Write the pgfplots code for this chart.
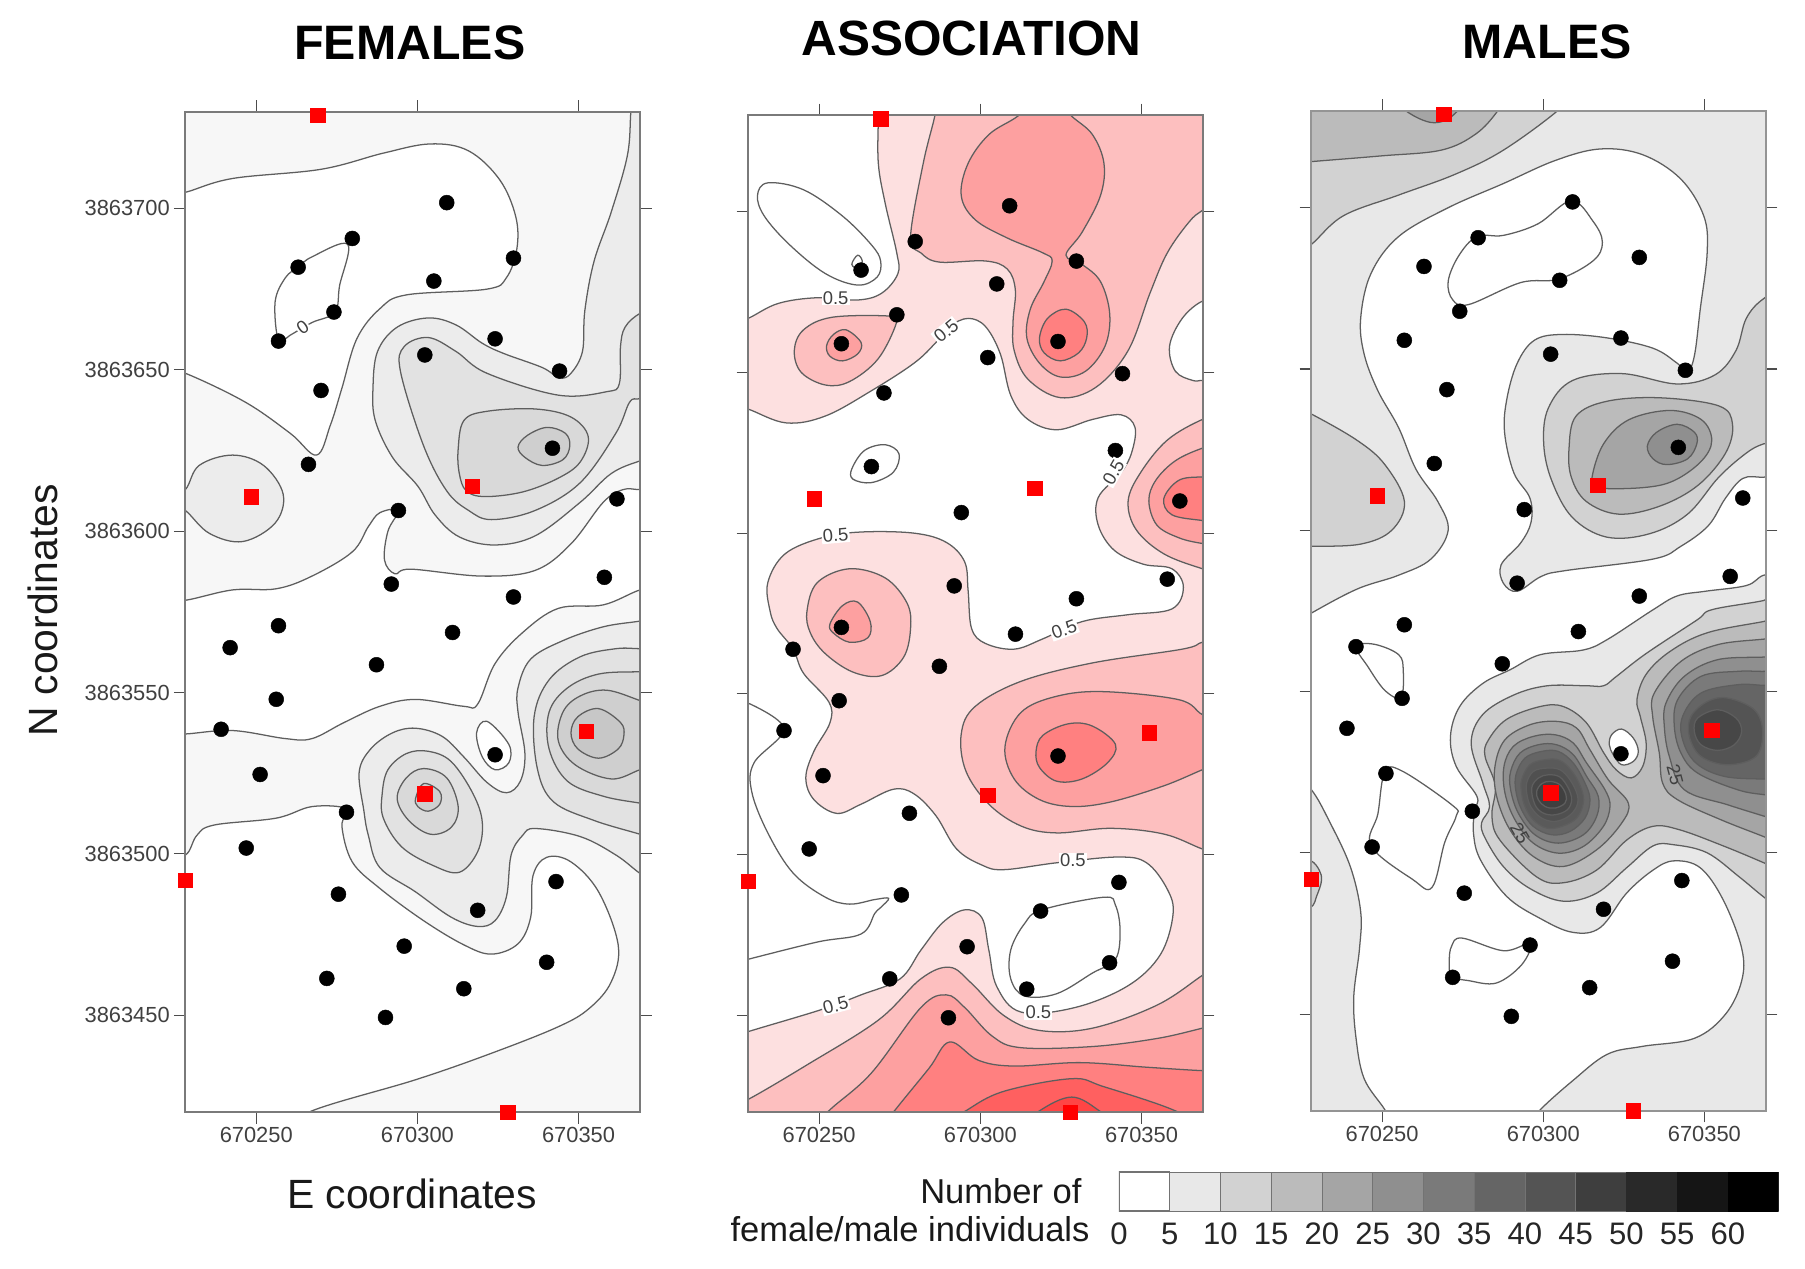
\documentclass[border=0pt]{standalone}
\usepackage{fontspec}
\setmainfont{Liberation Sans}
\usepackage{pgfplots}
\usepackage{pgfplotstable}
\pgfplotsset{compat=1.18}

\definecolor{lc}{HTML}{5E5E5E}
\definecolor{fa}{HTML}{F7F7F7}
\definecolor{fb}{HTML}{ECECEC}
\definecolor{fc}{HTML}{E2E2E2}
\definecolor{fd}{HTML}{D9D9D9}
\definecolor{fe}{HTML}{CFCFCF}
\definecolor{ff}{HTML}{C7C7C7}
\definecolor{pa}{HTML}{FDE0E0}
\definecolor{pb}{HTML}{FDBFBF}
\definecolor{pc}{HTML}{FDA0A0}
\definecolor{pd}{HTML}{FF8080}
\definecolor{pe}{HTML}{FF6060}
\definecolor{pf}{HTML}{FF4545}
\definecolor{g1}{HTML}{E8E8E8}
\definecolor{g2}{HTML}{D2D2D2}
\definecolor{g3}{HTML}{BBBBBB}
\definecolor{g4}{HTML}{A5A5A5}
\definecolor{g5}{HTML}{8F8F8F}
\definecolor{g6}{HTML}{7A7A7A}
\definecolor{g7}{HTML}{656565}
\definecolor{g8}{HTML}{545454}
\definecolor{g9}{HTML}{3E3E3E}
\definecolor{g10}{HTML}{292929}
\definecolor{g11}{HTML}{151515}
\definecolor{h8}{HTML}{5A5A5A}
\definecolor{h9}{HTML}{505050}
\definecolor{h10}{HTML}{474747}
\definecolor{h11}{HTML}{404040}

% sampling stations, E-670000 and N-3863000 in metres
\pgfplotstableread{
x y
309.1 701.8
279.8 690.7
263.0 681.8
329.8 684.6
305.1 677.5
274.1 667.9
256.9 658.9
324.1 659.6
302.3 654.6
344.1 649.6
270.1 643.6
341.9 625.7
266.2 620.7
294.1 606.4
361.9 610.0
358.0 585.7
291.9 583.6
329.8 579.6
256.9 570.7
310.9 568.6
241.9 563.9
287.3 558.6
256.2 547.9
239.1 538.6
324.1 530.7
251.2 524.6
278.0 512.9
246.9 501.8
275.5 487.5
343.0 491.4
318.7 482.5
295.9 471.4
340.1 466.4
271.9 461.4
314.4 458.2
290.1 449.3
}\stations
\pgfplotstableread{
x y
269.1 728.9
369.1 657.9
248.4 610.7
316.9 613.9
228.0 491.8
352.3 537.9
302.3 518.6
328.0 420.0
}\redsites

\pgfplotsset{
  panel/.style={scale only axis,width=395pt,anchor=south west,
    xmin=228,xmax=369.07,ymin=420,ymax=730,
    xtick={250,300,350},xticklabels={670250,670300,670350},
    ytick={450,500,550,600,650,700},
    tick align=outside,major tick length=10pt,
    tick style={color=black!70,line width=0.9pt},
    axis line style={color=black!50,line width=1pt},
    tick label style={font=\fontsize{19}{19}\selectfont,text=black!75},
    clip mode=individual},
  reg/.style={draw=lc,line width=1.1pt,smooth cycle,tension=0.6},
  ra/.style={reg,x filter/.expression={228+(x-161)/2.8},y filter/.expression={730-(y-97)/2.8}},
  rb/.style={reg,x filter/.expression={228+(x-650)/2.8},y filter/.expression={730-(y-100)/2.8}},
  rc/.style={reg,x filter/.expression={228+(x-1139)/2.8},y filter/.expression={730-(y-97)/2.8}},
  rz/.style={reg,x filter/.expression={267.96+0.10342*x},y filter/.expression={572.29-0.10342*y}},
  ry/.style={reg,x filter/.expression={280.37+0.10342*x},y filter/.expression={547.47-0.10342*y}},
  stn/.style={only marks,mark=*,mark size=6.5pt,mark options={fill=black,draw=black}},
  redm/.style={only marks,mark=square*,mark size=6.2pt,mark options={fill=red,draw=red}},
}
\tikzset{lab/.style={font=\fontsize{16}{16}\selectfont,text=black!75,inner sep=1pt},
  frm/.style={draw=black!52,line width=1.9pt}}

\begin{document}
\begin{tikzpicture}[x=1pt,y=1pt]
\path[use as bounding box] (0,0) rectangle (1568,1102);

% FEMALES
\begin{axis}[panel,height=869pt,at={(161pt,136pt)},
  yticklabels={3863450,3863500,3863550,3863600,3863650,3863700},axis background/.style={fill=fa}]
\addplot[ra,fill=white] coordinates {(161,167)(202,155)(279,147)(333,133)(374,125)(407,131)(434,156)(448,188)(449,216)(440,241)(423,251)(353,256)(330,268)(310,294)(297,337)(287,369)(275,395)(252,376)(213,349)(161,324)(140,320)(140,170)};
\addplot[ra,fill=white] coordinates {(161,521)(202,512)(240,511)(271,500)(306,479)(320,457)(330,445)(346,443)(337,461)(334,486)(343,498)(357,494)(419,500)(465,495)(496,472)(524,436)(541,425)(556,425)(575,425)(575,510)(556,512)(524,525)(485,528)(454,549)(430,576)(415,611)(403,613)(361,607)(330,613)(299,627)(271,641)(248,641)(202,634)(161,637)(140,637)(140,521)};
\addplot[ra,fill=white] coordinates {(161,742)(171,725)(186,716)(240,710)(271,700)(301,702)(297,717)(306,748)(330,771)(368,799)(403,820)(427,828)(450,819)(461,796)(463,760)(475,744)(496,748)(520,774)(537,820)(531,852)(512,875)(485,891)(427,914)(361,937)(271,964)(240,985)(140,985)(140,742)};
\addplot[ra] coordinates {(242,296)(239,262)(248,241)(259,232)(271,223)(302,212)(295,248)(291,271)(271,280)(252,291)};
% level 2
\addplot[ra,fill=fb] coordinates {(548,97)(545,135)(531,184)(516,227)(508,270)(506,305)(496,324)(486,328)(471,319)(438,307)(419,298)(396,282)(372,276)(345,284)(328,305)(324,337)(326,365)(341,397)(363,422)(378,447)(399,466)(430,473)(465,465)(504,436)(531,411)(556,400)(575,395)(580,250)(575,80)(550,75)};
\addplot[ra,fill=fb] coordinates {(556,539)(524,544)(489,556)(461,572)(450,597)(450,618)(456,654)(452,678)(440,688)(423,679)(403,657)(384,639)(361,632)(341,636)(322,650)(312,670)(316,703)(320,725)(330,753)(361,774)(392,796)(415,804)(430,799)(440,778)(444,742)(454,725)(465,719)(504,726)(535,742)(556,758)(575,770)(585,650)(575,535)};
\addplot[ra,fill=fb] coordinates {(161,425)(173,404)(202,395)(229,404)(246,429)(239,454)(211,470)(182,463)(161,443)(145,434)};
% level 3
\addplot[ra,fill=fc] coordinates {(556,272)(543,284)(539,301)(538,333)(527,340)(485,343)(423,324)(396,305)(372,293)(351,301)(348,323)(368,387)(388,426)(407,443)(427,451)(465,443)(504,419)(535,376)(547,349)(556,346)(575,340)(580,300)(575,265)};
\addplot[ra,fill=fc] coordinates {(332,689)(337,668)(353,654)(372,652)(392,661)(411,689)(419,714)(415,739)(399,757)(376,751)(349,735)(333,710)};
\addplot[ra,fill=fc] coordinates {(556,724)(516,712)(481,696)(467,668)(464,622)(477,590)(504,570)(535,563)(556,563)(575,563)(585,640)(575,730)};
% level 4
\addplot[ra,fill=fd] coordinates {(398,390)(403,365)(423,357)(465,355)(496,362)(511,379)(504,401)(485,415)(454,427)(421,431)(405,426)(399,411)};
\addplot[ra,fill=fd] coordinates {(345,693)(353,675)(368,667)(388,675)(398,700)(392,718)(374,724)(355,712)};
\addplot[ra,fill=fd] coordinates {(556,697)(524,691)(493,678)(477,650)(477,618)(493,597)(520,585)(556,583)(575,583)(585,640)(575,700)};
% level 5
\addplot[ra,fill=fe] coordinates {(450,388)(458,378)(475,371)(491,376)(495,387)(489,399)(471,404)(456,397)};
\addplot[ra,fill=fe] coordinates {(361,693)(368,680)(382,687)(382,698)(372,704)(363,700)};
\addplot[ra,fill=fe] coordinates {(556,668)(531,676)(500,664)(485,643)(489,618)(504,604)(527,599)(556,608)(575,615)(580,640)(575,662)};
\addplot[ra,fill=ff] coordinates {(520,615)(539,627)(542,638)(537,650)(520,658)(502,650)(496,636)(502,622)};
\addplot[ra,fill=white] coordinates {(423,626)(442,646)(442,662)(430,668)(419,657)(414,636)};
\draw[frm] (rel axis cs:0,0) rectangle (rel axis cs:1,1);
\addplot[stn] table {\stations};
\addplot[redm] table {\redsites};
\node[lab,fill=white,rotate=35] at (axis cs:264.4,663.2) {0};
\end{axis}

% ASSOCIATION
\begin{axis}[panel,height=866pt,at={(650pt,136pt)},yticklabels={},axis background/.style={fill=pa}]
\addplot[rb,fill=white] coordinates {(763,101)(763,142)(769,177)(779,220)(780,238)(766,255)(745,261)(710,259)(676,264)(650,277)(630,285)(630,80)(763,80)};
\addplot[rb,fill=white] coordinates {(650,356)(683,368)(717,362)(757,340)(794,316)(813,298)(825,284)(841,277)(856,284)(869,308)(878,344)(893,365)(918,374)(949,365)(974,361)(986,372)(983,394)(974,411)(954,433)(954,457)(968,479)(993,491)(1018,495)(1028,511)(1018,530)(980,535)(940,541)(906,556)(881,565)(856,560)(844,547)(841,514)(838,489)(822,472)(794,464)(748,463)(714,468)(682,482)(667,507)(669,532)(675,547)(689,565)(698,586)(720,611)(721,629)(707,654)(700,677)(707,696)(727,708)(748,700)(776,687)(794,691)(813,710)(831,739)(853,753)(872,757)(918,751)(971,746)(996,751)(1014,774)(1019,796)(1008,831)(980,858)(934,877)(887,881)(866,859)(859,827)(853,799)(838,792)(819,803)(800,827)(782,852)(748,866)(713,879)(650,898)(630,905)(630,350)};
\addplot[rb,fill=white] coordinates {(1044.5,262)(1027,277)(1016,301)(1021,323)(1036,331)(1044.5,331)(1060,331)(1060,262)};
\addplot[rb,smooth] coordinates {(650,612)(681,634)(655,664)(653,689)(667,725)(689,760)(717,781)(738,787)(760,783)(772,782)(765,790)(760,795)(748,813)(710,820)(650,835)};
\addplot[rb] coordinates {(740,408)(751,392)(769,387)(781,395)(776,411)(757,420)(741,417)};
\addplot[rb] coordinates {(658,170)(667,159)(698,165)(732,188)(757,213)(765,227)(762,241)(745,248)(717,238)(686,213)(664,188)};
\addplot[rb] coordinates {(740,230)(745,222)(749,227)(746,234)};
\addplot[rb] coordinates {(905,792)(959,781)(969,788)(973,810)(969,835)(949,847)(918,865)(890,867)(878,852)(878,827)(890,804)};
% level 2
\addplot[rb,fill=pb] coordinates {(812,101)(802,142)(791,206)(800,220)(816,228)(856,227)(875,234)(882,252)(880,280)(881,305)(893,330)(921,346)(952,337)(980,305)(999,255)(1014,220)(1033,193)(1044.5,183)(1065,170)(1065,80)(815,80)};
\addplot[rb,fill=pb] coordinates {(690,305)(698,287)(723,276)(773,275)(779,280)(763,312)(738,332)(717,335)(696,324)};
\addplot[rb,fill=pb] coordinates {(1044.5,365)(1014,383)(991,411)(980,436)(987,461)(1011,482)(1044.5,495)(1065,500)(1070,430)(1065,360)};
\addplot[rb,fill=pb] coordinates {(701,532)(710,507)(738,495)(769,503)(788,525)(791,547)(785,572)(766,588)(741,585)(717,569)(704,551)};
\addplot[rb,fill=pb] coordinates {(1044.5,559)(1027,565)(949,577)(887,593)(847,615)(835,639)(839,671)(859,700)(887,719)(918,725)(965,721)(1011,726)(1044.5,739)(1065,745)(1075,650)(1065,555)};
\addplot[rb,fill=pb] coordinates {(650,957)(701,927)(763,888)(800,852)(825,842)(844,856)(872,884)(903,897)(949,895)(1005,875)(1044.5,849)(1065,835)(1070,990)(630,990)(630,965)};
% level 3
\addplot[rb,fill=pc] coordinates {(884,101)(859,117)(841,142)(835,170)(847,191)(875,207)(906,220)(914,227)(907,245)(895,269)(892,294)(903,316)(921,328)(943,323)(960,301)(964,273)(956,245)(940,230)(926,222)(940,202)(956,170)(959,142)(949,117)(931,101)(915,85)(900,85)};
\addplot[rb,fill=pc] coordinates {(718,301)(724,291)(735,287)(748,298)(745,308)(732,314)(721,310)};
\addplot[rb,fill=pc] coordinates {(1044.5,390)(1021,401)(1004,418)(998,436)(1005,457)(1024,468)(1044.5,473)(1065,475)(1070,430)(1065,385)};
\addplot[rb,fill=pc] coordinates {(721,543)(732,527)(745,524)(756,541)(754,555)(738,559)(724,551)};
\addplot[rb,fill=pc] coordinates {(1044.5,622)(1024,609)(959,602)(918,606)(887,620)(873,650)(881,678)(903,696)(931,702)(965,698)(1011,684)(1044.5,670)(1065,662)(1070,645)(1065,630)};
\addplot[rb,fill=pc] coordinates {(720,967)(757,934)(800,877)(822,866)(838,877)(862,902)(887,912)(949,911)(1005,904)(1044.5,895)(1065,890)(1070,990)(700,990)};
% level 4
\addplot[rb,fill=pd] coordinates {(903,294)(910,277)(926,269)(942,280)(944,294)(937,307)(921,314)(907,307)};
\addplot[rb,fill=pd] coordinates {(1044.5,415)(1024,418)(1011,434)(1018,448)(1044.5,453)(1065,455)(1070,435)(1065,415)};
\addplot[rb,fill=pd] coordinates {(900,654)(906,640)(928,630)(949,632)(969,648)(962,664)(940,678)(918,680)(903,668)};
\addplot[rb,fill=pd] coordinates {(777,967)(807,930)(825,907)(850,923)(881,928)(938,925)(996,929)(1044.5,932)(1065,932)(1070,990)(760,990)};
% level 5 and 6
\addplot[rb,fill=pe] coordinates {(839,967)(872,950)(931,939)(959,946)(1021,967)(1045,985)(815,985)};
\addplot[rb,fill=pf] coordinates {(903,967)(931,955)(955,967)(975,985)(885,985)};
\draw[frm] (rel axis cs:0,0) rectangle (rel axis cs:1,1);
\addplot[stn] table {\stations};
\addplot[redm] table {\redsites};
\node[lab,fill=white] at (axis cs:255.1,673.2) {0.5};
\node[lab,fill=white,rotate=40] at (axis cs:289.4,662.9) {0.5};
\node[lab,fill=white,rotate=60] at (axis cs:341.3,618.9) {0.5};
\node[lab,fill=white,rotate=5] at (axis cs:255.1,599.3) {0.5};
\node[lab,fill=white,rotate=20] at (axis cs:326,570) {0.5};
\node[lab,fill=white] at (axis cs:328.7,498.2) {0.5};
\node[lab,fill=white,rotate=15] at (axis cs:255.1,453.2) {0.5};
\node[lab,fill=white] at (axis cs:318,451.1) {0.5};
\end{axis}

% MALES
\begin{axis}[panel,height=868.6pt,at={(1139pt,137pt)},yticklabels={},axis background/.style={fill=g1}]
\addplot[rc,fill=white] coordinates {(1182,277)(1191,238)(1215,206)(1258,181)(1306,160)(1351,140)(1390,130)(1427,135)(1460,156)(1480,188)(1483,220)(1477,269)(1472,309)(1466,323)(1457,316)(1436,303)(1396,294)(1357,291)(1333,296)(1318,316)(1309,347)(1307,376)(1315,411)(1329,433)(1330,454)(1321,472)(1304,491)(1306,507)(1318,514)(1339,501)(1360,496)(1436,486)(1460,475)(1484,457)(1499,433)(1514,416)(1532,415)(1555,415)(1555,495)(1532,500)(1517,509)(1481,514)(1457,518)(1436,530)(1396,556)(1375,565)(1338,569)(1312,582)(1288,594)(1268,614)(1260,640)(1265,666)(1283,692)(1281,704)(1280,724)(1286,747)(1309,779)(1338,798)(1366,810)(1390,806)(1413,776)(1436,756)(1454,748)(1477,754)(1497,782)(1513,824)(1513,852)(1499,881)(1472,902)(1427,909)(1396,916)(1366,939)(1338,964)(1320,985)(1215,985)(1203,964)(1185,937)(1178,902)(1176,866)(1181,824)(1182,792)(1173,753)(1155,714)(1139,686)(1120,670)(1120,545)(1139,533)(1179,512)(1215,500)(1243,486)(1258,461)(1249,436)(1230,408)(1215,372)(1197,340)(1185,308)};
\addplot[rc] coordinates {(1283,206)(1306,205)(1336,195)(1365,175)(1384,193)(1392,211)(1384,227)(1354,243)(1321,246)(1276,265)(1262,261)(1258,245)(1267,223)};
\addplot[rc] coordinates {(1178,562)(1194,560)(1215,569)(1219,583)(1217,606)(1203,600)(1188,579)};
\addplot[rc] coordinates {(1203,671)(1218,670)(1262,700)(1265,709)(1255,732)(1244,771)(1227,764)(1191,735)(1197,707)};
\addplot[rc] coordinates {(1261,822)(1270,815)(1306,826)(1329,820)(1322,838)(1300,854)(1276,852)(1261,848)(1259,835)};
% level 2
\addplot[rc,fill=g2] coordinates {(1354,96)(1306,131)(1264,152)(1215,170)(1167,188)(1139,213)(1120,225)(1120,80)(1365,80)};
\addplot[rc,fill=g2] coordinates {(1139,360)(1179,383)(1203,404)(1220,436)(1209,461)(1182,473)(1139,475)(1120,475)(1115,420)(1120,352)};
\addplot[rc,fill=g2] coordinates {(1532,260)(1517,277)(1508,305)(1490,326)(1457,334)(1409,325)(1366,331)(1345,355)(1341,386)(1348,418)(1366,450)(1396,467)(1433,464)(1466,447)(1493,415)(1517,394)(1532,386)(1555,380)(1560,320)(1555,250)};
\addplot[rc,fill=g2] coordinates {(1532,522)(1487,530)(1474,539)(1430,568)(1404,588)(1393,596)(1378,596)(1344,596)(1315,604)(1288,621)(1278,646)(1288,680)(1294,701)(1287,715)(1290,728)(1306,753)(1329,772)(1358,783)(1387,776)(1413,754)(1436,735)(1454,734)(1483,741)(1511,762)(1533,780)(1555,795)(1565,650)(1555,515)};
\addplot[rc,fill=g2] coordinates {(1139,748)(1146,756)(1148,765)(1144,778)(1139,788)(1125,790)(1125,745)};
% level 3
\addplot[rc,fill=g3] coordinates {(1301,97)(1282,117)(1252,131)(1200,136)(1139,141)(1120,143)(1120,80)(1310,80)};
\addplot[rc,fill=g3] coordinates {(1363,390)(1369,362)(1396,349)(1442,346)(1493,353)(1505,369)(1499,394)(1475,422)(1442,440)(1406,447)(1378,436)(1365,415)};
\addplot[rc,fill=g3] coordinates {(1533,540)(1483,550)(1451,566)(1430,586)(1422,608)(1425,623)(1430,646)(1427,666)(1417,676)(1404,669)(1393,654)(1378,628)(1358,614)(1338,614)(1309,625)(1293,643)(1290,657)(1299,683)(1296,709)(1303,730)(1335,762)(1358,767)(1387,756)(1413,730)(1436,718)(1459,721)(1497,735)(1533,750)(1555,760)(1565,650)(1555,535)};
% level 4 and up
\addplot[rc,fill=g4] coordinates {(1220,96)(1236,105)(1249,107)(1262,101)(1270,85)(1210,85)};
\addplot[rc,fill=g4] coordinates {(1383,415)(1393,386)(1415,365)(1451,357)(1478,365)(1487,383)(1478,401)(1454,418)(1427,424)(1387,424)};
\addplot[rc,fill=g5] coordinates {(1431,388)(1439,376)(1457,369)(1472,376)(1474,386)(1466,399)(1448,404)(1436,399)};
% left peak
\addplot[ry,fill=g4] coordinates {(45,200)(75,120)(150,75)(230,65)(290,85)(330,150)(385,240)(445,310)(425,370)(350,450)(250,500)(160,470)(90,390)(50,290)};
\addplot[ry,fill=g5] coordinates {(72,200)(100,140)(160,110)(225,105)(280,130)(320,190)(375,270)(390,320)(370,380)(310,440)(235,460)(160,430)(105,360)(75,280)};
\addplot[ry,fill=g6] coordinates {(92,215)(120,160)(175,135)(230,135)(280,165)(320,230)(355,290)(350,350)(310,405)(235,430)(165,405)(115,340)(92,270)};
\addplot[ry,fill=g7] coordinates {(108,225)(135,175)(185,155)(235,155)(280,190)(315,250)(330,300)(315,355)(270,395)(215,405)(160,380)(125,330)(108,275)};
\addplot[ry,fill=h8] coordinates {(125,240)(150,195)(195,180)(240,182)(280,220)(305,270)(310,310)(290,355)(245,380)(200,385)(160,360)(135,320)(125,280)};
\addplot[ry,fill=h9] coordinates {(140,250)(160,215)(200,205)(240,210)(270,240)(292,285)(290,320)(265,350)(225,365)(185,355)(155,325)(142,290)};
\addplot[ry,fill=h10] coordinates {(155,265)(175,235)(205,225)(240,232)(265,265)(275,300)(262,330)(225,345)(190,340)(165,315)};
\addplot[ry,fill=h11] coordinates {(170,275)(185,252)(210,245)(240,255)(258,285)(255,310)(225,325)(195,320)(175,300)};
% right peak
\addplot[rz,fill=g4] coordinates {(975,58)(833,75)(723,125)(643,220)(638,290)(658,400)(668,490)(713,540)(843,600)(975,652)(1040,680)(1060,360)(1040,50)};
\addplot[rz,fill=g5] coordinates {(975,112)(833,120)(733,170)(678,250)(673,320)(688,410)(733,510)(863,555)(975,590)(1040,610)(1060,360)(1040,105)};
\addplot[rz,fill=g6] coordinates {(975,155)(893,155)(783,170)(713,240)(703,320)(723,400)(773,460)(893,510)(975,525)(1040,530)(1055,340)(1040,150)};
\addplot[rz,fill=g7] coordinates {(975,197)(893,195)(783,220)(728,290)(728,360)(768,430)(853,470)(975,478)(1040,478)(1050,340)(1040,195)};
\addplot[rz,fill=g8] coordinates {(863,235)(943,270)(968,335)(948,410)(863,435)(783,410)(748,350)(753,290)(803,245)};
\addplot[rz,fill=h10] coordinates {(833,270)(888,295)(905,335)(883,375)(833,392)(783,375)(763,335)(773,295)};
\addplot[rz,fill=white] coordinates {(515,345)(545,328)(580,355)(595,395)(580,425)(545,435)(520,405)(508,375)};
\draw[frm,draw=black!42,line width=2.3pt] (rel axis cs:0,0) rectangle (rel axis cs:1,1);
\addplot[stn] table {\stations};
\addplot[redm] table {\redsites};
\node[lab,rotate=-60] at (axis cs:292.8,506.1) {25};
\node[lab,rotate=-75] at (axis cs:340.9,524.2) {25};
\end{axis}

% shade key
\begin{axis}[scale only axis,width=573pt,height=34pt,anchor=south west,at={(972pt,50pt)},
  xmin=0,xmax=65,ymin=0,ymax=1,axis y line=none,axis x line*=bottom,
  xtick={0,5,10,15,20,25,30,35,40,45,50,55,60},
  xticklabels={0,5,10,15,20,25,30,35,40,45,50,55,60},
  major tick length=0pt,axis line style={draw=none},
  xticklabel style={font=\fontsize{27}{27}\selectfont,text=black!85,yshift=-7pt}]
\addplot[fill=white,draw=black!55,line width=1.2pt] coordinates {(0,0)(5,0)(5,1)(0,1)} --cycle;
\addplot[fill=g1,draw=black!55] coordinates {(5,0)(10,0)(10,1)(5,1)} --cycle;
\addplot[fill=g2,draw=black!55] coordinates {(10,0)(15,0)(15,1)(10,1)} --cycle;
\addplot[fill=g3,draw=black!55] coordinates {(15,0)(20,0)(20,1)(15,1)} --cycle;
\addplot[fill=g4,draw=black!55] coordinates {(20,0)(25,0)(25,1)(20,1)} --cycle;
\addplot[fill=g5,draw=black!55] coordinates {(25,0)(30,0)(30,1)(25,1)} --cycle;
\addplot[fill=g6,draw=black!55] coordinates {(30,0)(35,0)(35,1)(30,1)} --cycle;
\addplot[fill=g7,draw=black!55] coordinates {(35,0)(40,0)(40,1)(35,1)} --cycle;
\addplot[fill=g8,draw=black!55] coordinates {(40,0)(45,0)(45,1)(40,1)} --cycle;
\addplot[fill=g9,draw=black!55] coordinates {(45,0)(50,0)(50,1)(45,1)} --cycle;
\addplot[fill=g10,draw=g10] coordinates {(50,0)(55,0)(55,1)(50,1)} --cycle;
\addplot[fill=g11,draw=g11] coordinates {(55,0)(60,0)(60,1)(55,1)} --cycle;
\addplot[fill=black,draw=black] coordinates {(60,0)(65,0)(65,1)(60,1)} --cycle;
\end{axis}

\node[font=\fontsize{42}{42}\selectfont\bfseries] at (356,1065) {FEMALES};
\node[font=\fontsize{43}{43}\selectfont\bfseries] at (844,1069) {ASSOCIATION};
\node[font=\fontsize{42}{42}\selectfont\bfseries] at (1344,1066) {MALES};
\node[font=\fontsize{35.5}{35.5}\selectfont,text=black!90] at (358,65) {E coordinates};
\node[font=\fontsize{35.5}{35.5}\selectfont,text=black!90,rotate=90] at (37,572) {N coordinates};
\node[font=\fontsize{30}{30}\selectfont,anchor=east,text=black!90] at (943,67) {Number of};
\node[font=\fontsize{30}{30}\selectfont,anchor=east,text=black!90] at (950,34) {female/male individuals};
\end{tikzpicture}
\end{document}
